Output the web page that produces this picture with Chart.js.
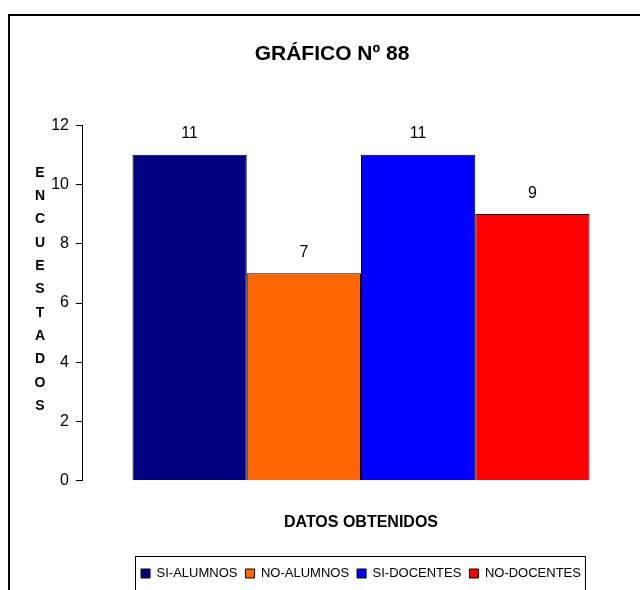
<!DOCTYPE html>
<html>
<head>
<meta charset="utf-8">
<script src="https://cdn.jsdelivr.net/npm/chart.js@4"></script>
<style>
  body { margin: 0; background: #fff; }
  canvas { display: block; }
</style>
</head>
<body>
<canvas id="barChart" width="640" height="590"></canvas>
<script>
const chartTitle = 'GRÁFICO Nº 88';
const xTitle = 'DATOS OBTENIDOS';
const yTitle = 'ENCUESTADOS';
const categories = [''];
const seriesNames = ['SI-ALUMNOS', 'NO-ALUMNOS', 'SI-DOCENTES', 'NO-DOCENTES'];
const seriesValues = [11, 7, 11, 9];
const seriesColors = ['#000080', '#FF6600', '#0000FF', '#FF0000'];
const yTickValues = [0, 2, 4, 6, 8, 10, 12];

const FONT = "'Liberation Sans', Arial, sans-serif";

// outer frame, stacked y title, value labels, legend frame
const extras = {
    id: 'extras',
    afterDraw(chart) {
        const c = chart.ctx;
        c.save();
        c.strokeStyle = '#000';
        c.lineWidth = 2;
        c.strokeRect(9, 15, 700, 700);

        // vertical letters
        c.fillStyle = '#000';
        c.font = 'bold 14px ' + FONT;
        c.textAlign = 'center';
        c.textBaseline = 'middle';
        yTitle.split('').forEach((ch, i) => c.fillText(ch, 40, 173 + i * 23.3));

        // values above bars
        c.font = '16px ' + FONT;
        chart.data.datasets.forEach((ds, i) => {
            chart.getDatasetMeta(i).data.forEach((bar, j) => {
                c.fillText(ds.data[j], bar.x, bar.y - 21);
            });
        });

        // legend box
        const boxes = chart.legend.legendHitBoxes;
        if (boxes && boxes.length) {
            const first = boxes[0], last = boxes[boxes.length - 1];
            c.lineWidth = 1;
            c.strokeRect(Math.round(first.left) - 5.5, Math.round(chart.legend.top) - 2.5,
                last.left + last.width - first.left + 10, 100);
        }
        c.restore();
    }
};

const ctx = document.getElementById('barChart').getContext('2d');
const chart = new Chart(ctx, {
    type: 'bar',
    data: {
        labels: categories,
        datasets: seriesNames.map((name, i) => ({
            label: name,
            data: [seriesValues[i]],
            backgroundColor: seriesColors[i],
            borderColor: '#000',
            borderWidth: 1,
            barPercentage: 1,
            categoryPercentage: 0.819,
        })),
    },
    options: {
        responsive: false,
        animation: false,
        layout: { padding: { left: 24, right: 0, top: 0, bottom: 0 } },
        font: { family: FONT },
        plugins: {
            title: {
                display: true,
                text: chartTitle,
                color: '#000',
                font: { family: FONT, size: 21, weight: 'bold' },
                padding: { top: 42, bottom: 58 },
            },
            legend: {
                position: 'bottom',
                fullSize: false,
                labels: {
                    color: '#000',
                    font: { family: FONT, size: 13 },
                    boxWidth: 9,
                    boxHeight: 9,
                    padding: 8,
                },
            },
            tooltip: { enabled: false },
        },
        scales: {
            x: {
                grid: { display: false, drawTicks: false },
                border: { display: false },
                ticks: { display: false },
                title: {
                    display: true,
                    text: xTitle,
                    color: '#000',
                    font: { family: FONT, size: 16, weight: 'bold' },
                    padding: { top: 32, bottom: 27 },
                },
            },
            y: {
                min: 0,
                max: 12,
                afterBuildTicks: scale => { scale.ticks = yTickValues.map(v => ({ value: v })); },
                afterFit: scale => { scale.width = 58; },
                ticks: { color: '#000', font: { family: FONT, size: 16 }, padding: 7 },
                grid: { drawOnChartArea: false, tickLength: 6, color: '#000' },
                border: { color: '#000', width: 1 },
            },
        },
    },
    plugins: [extras],
});
</script>
</body>
</html>
